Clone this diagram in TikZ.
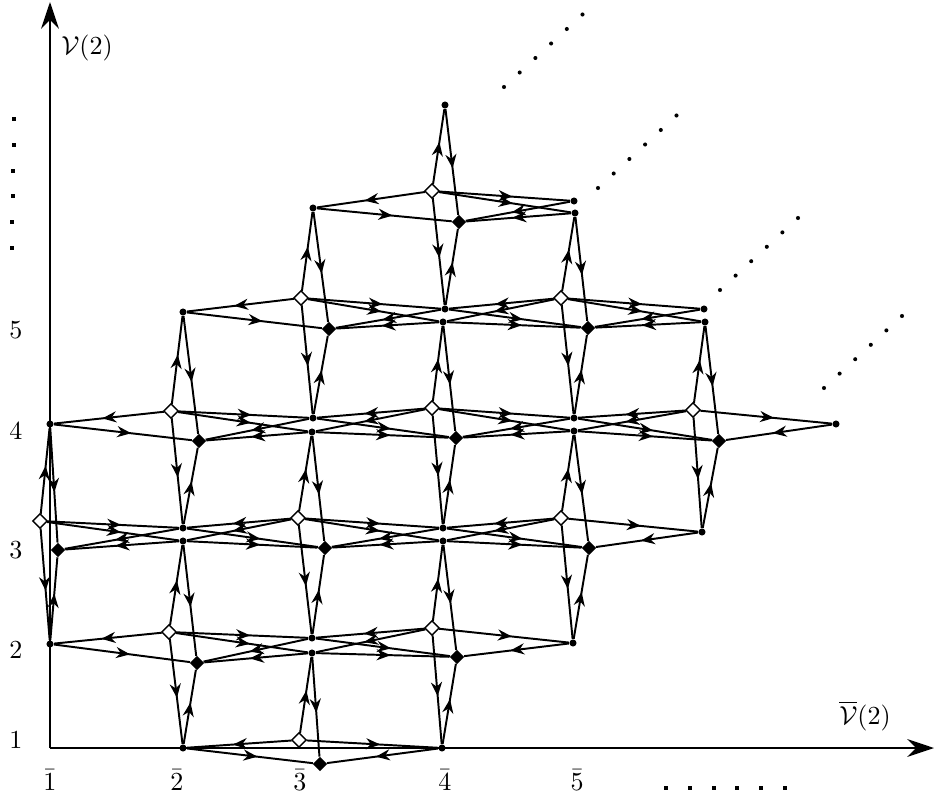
\documentclass[tikz,border=0pt]{standalone}
\usetikzlibrary{arrows.meta, shapes.geometric, decorations.markings}

\begin{document}
\begin{tikzpicture}[
  x=0.0135cm, y=-0.0135cm,
  dot/.style={circle, fill, inner sep=0pt, minimum size=0.095cm},
  wdia/.style={diamond, draw, fill=white, inner sep=0pt, minimum size=0.2cm, line width=0.5pt},
  bdia/.style={diamond, fill, inner sep=0pt, minimum size=0.2cm},
  arr/.style={line width=0.75pt, postaction={decorate},
              decoration={markings, mark=at position 0.56 with {\arrow{Stealth[length=1.9mm,width=1.5mm]}}}},
  axis/.style={line width=0.8pt, -{Stealth[length=3.6mm,width=2.4mm]}},
  ell/.style={circle, fill, inner sep=0pt, minimum size=0.055cm},
  ebig/.style={rectangle, fill, inner sep=0pt, minimum size=0.055cm}
]
\useasboundingbox (0,0) rectangle (935,795);

% axes
\coordinate (O) at (50,748);
\coordinate (Ytop) at (50,2);
\coordinate (Xend) at (934,748);
\draw[axis] (O) -- (Ytop);
\draw[axis] (O) -- (Xend);
\node (vlab) at (87,48) {$\mathcal{V}(2)$};
\node (vbarlab) at (865,716) {$\overline{\mathcal{V}}(2)$};
\foreach \n/\y in {1/740, 2/650, 3/550, 4/431, 5/330}
  \node (y\n) at (16,\y) {$\n$};
\foreach \n/\x in {1/50, 2/177, 3/300, 4/445, 5/577}
  \node (x\n) at (\x,780) {$\bar{\n}$};

% single vertices
\node[dot] (d01) at (50,644) {};
\node[dot] (d03) at (50,424) {};
\node[dot] (d10) at (183,748) {};
\node[dot] (d30) at (442,748) {};
\node[dot] (d14) at (183,312) {};
\node[dot] (d25) at (313,208) {};
\node[dot] (d36) at (445,105) {};
\node[dot] (d63) at (836,424) {};
\node[dot] (d52) at (702,532) {};
\node[dot] (d41) at (573,643) {};

% split vertices (upper / lower)
\node[dot] (u12) at (183,528) {};  \node[dot] (l12) at (183,541) {};
\node[dot] (u21) at (312,638) {};  \node[dot] (l21) at (312,653) {};
\node[dot] (u23) at (313,418) {};  \node[dot] (l23) at (312,432) {};
\node[dot] (u32) at (443,528) {};  \node[dot] (l32) at (443,541) {};
\node[dot] (u34) at (445,309) {};  \node[dot] (l34) at (443,322) {};
\node[dot] (u43) at (574,418) {};  \node[dot] (l43) at (574,431) {};
\node[dot] (u45) at (574,201) {};  \node[dot] (l45) at (575,213) {};
\node[dot] (u54) at (704,309) {};  \node[dot] (l54) at (705,322) {};

% diamonds (white / black)
\node[wdia] (w02) at (40,521) {};   \node[bdia] (b02) at (58,550) {};
\node[wdia] (w11) at (169,632) {};  \node[bdia] (b11) at (197,663) {};
\node[wdia] (w13) at (171,411) {};  \node[bdia] (b13) at (199,441) {};
\node[wdia] (w20) at (299,740) {};  \node[bdia] (b20) at (320,764) {};
\node[wdia] (w22) at (298,518) {};  \node[bdia] (b22) at (325,548) {};
\node[wdia] (w24) at (301,298) {};  \node[bdia] (b24) at (329,329) {};
\node[wdia] (w31) at (432,628) {};  \node[bdia] (b31) at (457,657) {};
\node[wdia] (w33) at (432,408) {};  \node[bdia] (b33) at (456,438) {};
\node[wdia] (w35) at (432,191) {};  \node[bdia] (b35) at (459,222) {};
\node[wdia] (w42) at (561,518) {};  \node[bdia] (b42) at (589,548) {};
\node[wdia] (w44) at (561,298) {};  \node[bdia] (b44) at (588,328) {};
\node[wdia] (w53) at (693,410) {};  \node[bdia] (b53) at (719,441) {};

% white -> vertex -> black
\foreach \s/\d in {02/u12, 02/l12, 02/d03, 02/d01,
                   11/d01, 11/u21, 11/l21, 11/l12, 11/d10,
                   13/d03, 13/u23, 13/l23, 13/d14, 13/u12,
                   20/d10, 20/d30, 20/l21,
                   22/u12, 22/l12, 22/u32, 22/l32, 22/l23, 22/u21,
                   24/d14, 24/u34, 24/l34, 24/d25, 24/u23,
                   31/u21, 31/l21, 31/d41, 31/l32, 31/d30,
                   33/u23, 33/l23, 33/u43, 33/l43, 33/l34, 33/u32,
                   35/d25, 35/u45, 35/l45, 35/d36, 35/u34,
                   42/u32, 42/l32, 42/d52, 42/l43, 42/d41,
                   44/u34, 44/l34, 44/u54, 44/l54, 44/l45, 44/u43,
                   53/u43, 53/l43, 53/d63, 53/l54, 53/d52}{
  \draw[arr] (w\s) -- (\d);
  \draw[arr] (\d) -- (b\s);
}

% continuation dots
\foreach \i in {0,...,5}{
  \node[ell] (ea\i) at (504+15.7*\i, 87-14.5*\i) {};
  \node[ell] (eb\i) at (598+15.7*\i, 188-14.5*\i) {};
  \node[ell] (ec\i) at (720+15.6*\i, 290-14.4*\i) {};
  \node[ell] (ed\i) at (824+15.6*\i, 388-14.4*\i) {};
  \node[ebig] (el\i) at (14-0.4*\i, 119+25.8*\i) {};
  \node[ebig] (eh\i) at (666+23.8*\i, 788) {};
}
\end{tikzpicture}
\end{document}
